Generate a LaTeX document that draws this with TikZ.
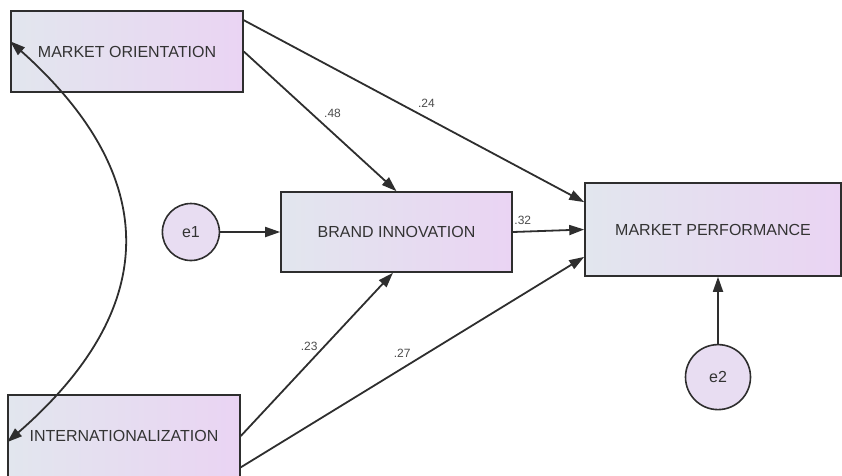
\documentclass[tikz,border=0pt]{standalone}
\usepackage{fontspec}
\setmainfont{Liberation Sans}
\usetikzlibrary{positioning,arrows.meta}
\definecolor{boxleft}{HTML}{E2E6EE}
\definecolor{boxright}{HTML}{EAD4F3}
\definecolor{errfill}{HTML}{E8DDF2}
\definecolor{edge}{HTML}{2E2E2E}
\tikzset{var/.style={draw=edge,line width=1.6pt,rectangle,left color=boxleft,right color=boxright,minimum width=232pt,minimum height=80pt,font=\fontsize{16}{18}\selectfont,text=black!80},err/.style={draw=edge,line width=1.6pt,circle,fill=errfill,minimum size=57pt,inner sep=0pt,font=\fontsize{16}{18}\selectfont,text=black!80},path/.style={draw=edge,line width=1.8pt,-{Triangle[length=15pt,width=10pt]}},coef/.style={font=\fontsize{12}{13}\selectfont,text=black!70,inner sep=1pt}}

\begin{document}
\begin{tikzpicture}[x=1pt,y=-1pt]
\useasboundingbox (0,0) rectangle (842,475);
\node[var,minimum height=81pt] (mo) at (127,51.5) {MARKET ORIENTATION};
\node[var,minimum width=231pt] (bi) at (396.5,232) {BRAND INNOVATION};
\node[var,minimum width=256pt,minimum height=93pt] (mp) at (713,229.5) {MARKET PERFORMANCE};
\node[var,minimum height=82pt] (int) at (124,436) {INTERNATIONALIZATION};
\node[err,left=60pt of bi] (e1) {e1};
\node[err,minimum size=65pt,below=67pt of mp,xshift=5pt] (e2) {e2};
% paths
\draw[path] (mo.east) -- node[coef,pos=0.5,above right=3pt] (c48) {.48} (bi.north);
\draw[path] (mo.15) -- node[coef,pos=0.5,above right=3pt] (c24) {.24} (mp.168);
\draw[path] (bi.east) -- node[coef,pos=0.14,above=5pt] (c32) {.32} (mp.west);
\draw[path] (int.east) -- node[coef,pos=0.55,left=5pt] (c23) {.23} (bi.265);
\draw[path] (int.-15) -- node[coef,pos=0.47,above=9pt] (c27) {.27} (mp.192);
\draw[path] (e1) -- (bi);
\draw[path] (e2) -- (e2 |- mp.south);
% covariance
\draw[path,{Triangle[length=15pt,width=10pt]}-{Triangle[length=15pt,width=10pt]}] (mo.175) .. controls +(151,135) and +(155,-135) .. (int.183);
\end{tikzpicture}
\end{document}
